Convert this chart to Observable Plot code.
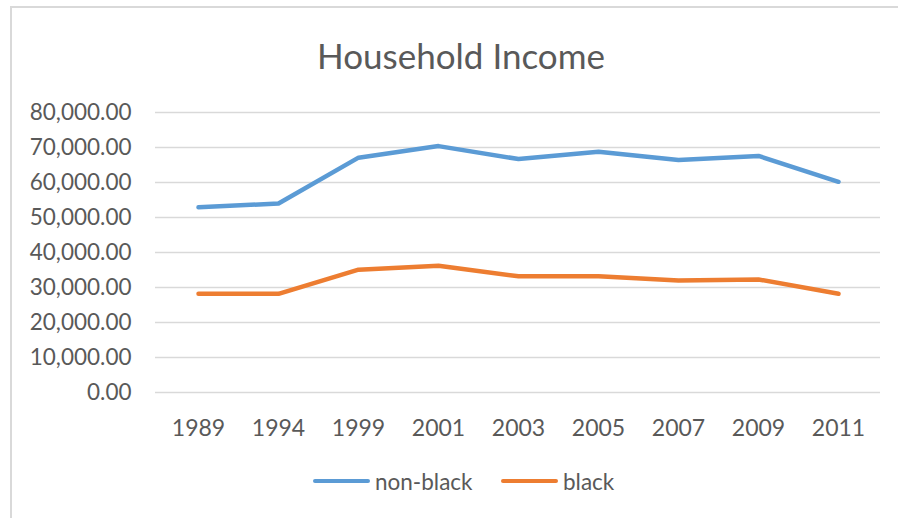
<!DOCTYPE html>
<html>
<head>
<meta charset="utf-8">
<script src="https://cdn.jsdelivr.net/npm/d3@7"></script>
<script src="https://cdn.jsdelivr.net/npm/@observablehq/plot@0.6"></script>
<style>
  body { margin: 0; background: #fff; }
  #wrap { position: relative; width: 898px; height: 518px; overflow: hidden; font-family: Lato, "Open Sans", sans-serif; color: #595959; }
  #frame { position: absolute; left: 10px; top: 6px; width: 900px; height: 520px; border-left: 2px solid #d9d9d9; border-top: 2px solid #d9d9d9; }
  #title { position: absolute; left: 0; width: 922px; top: 33px; text-align: center; font-size: 35px; font-weight: 400; color: #595959; line-height: 44px; }
  #chart { position: absolute; left: 0; top: 80px; }
  #legend { position: absolute; top: 467px; left: 0; width: 898px; height: 28px; font-size: 22.5px; color: #595959; }
  .item { position: absolute; top: 0; display: flex; align-items: center; height: 28px; }
  .swatch { width: 57px; height: 4px; border-radius: 2px; margin-right: 5px; }
</style>
</head>
<body>
<div id="wrap">
  <div id="frame"></div>
  <div id="title">Household Income</div>
  <div id="chart"></div>
  <div id="legend"></div>
</div>
<script>
const years = ["1989", "1994", "1999", "2001", "2003", "2005", "2007", "2009", "2011"];
const nonBlack = [52900, 54000, 67100, 70400, 66700, 68800, 66400, 67600, 60200];
const black = [28200, 28200, 35100, 36200, 33200, 33200, 32000, 32300, 28200];
const seriesNames = ["non-black", "black"];
const seriesColors = ["#5B9BD5", "#ED7D31"];
const yTicks = [0, 10000, 20000, 30000, 40000, 50000, 60000, 70000, 80000];

const rows = [];
years.forEach((y, i) => {
  rows.push({year: y, value: nonBlack[i], series: seriesNames[0]});
  rows.push({year: y, value: black[i], series: seriesNames[1]});
});

const fmt = d3.format(",.2f");

const chart = Plot.plot({
  width: 898,
  height: 370,
  marginLeft: 155,
  marginRight: 18,
  marginTop: 32,
  marginBottom: 58,
  style: { fontFamily: "Lato, 'Open Sans', sans-serif", fontSize: "22px", color: "#595959", background: "transparent" },
  x: { type: "point", domain: years, padding: 0.5, label: null },
  y: { domain: [0, 80000], label: null },
  color: { domain: seriesNames, range: seriesColors },
  marks: [
    Plot.ruleY(yTicks, { stroke: "#d9d9d9", strokeWidth: 1.3 }),
    Plot.axisY(yTicks, { tickSize: 0, tickPadding: 24, tickFormat: fmt, fontSize: 22.5, label: null }),
    Plot.axisX({ tickSize: 0, tickPadding: 27, fontSize: 23, label: null }),
    Plot.line(rows, { x: "year", y: "value", z: "series", stroke: "series", strokeWidth: 4.5, strokeLinecap: "round", strokeLinejoin: "round" })
  ]
});
document.getElementById("chart").appendChild(chart);

const legend = document.getElementById("legend");
const lefts = [313, 501];
seriesNames.forEach((name, i) => {
  const item = document.createElement("div");
  item.className = "item";
  item.style.left = lefts[i] + "px";
  const sw = document.createElement("div");
  sw.className = "swatch";
  sw.style.background = seriesColors[i];
  const label = document.createElement("span");
  label.textContent = name;
  item.appendChild(sw);
  item.appendChild(label);
  legend.appendChild(item);
});
</script>
</body>
</html>
